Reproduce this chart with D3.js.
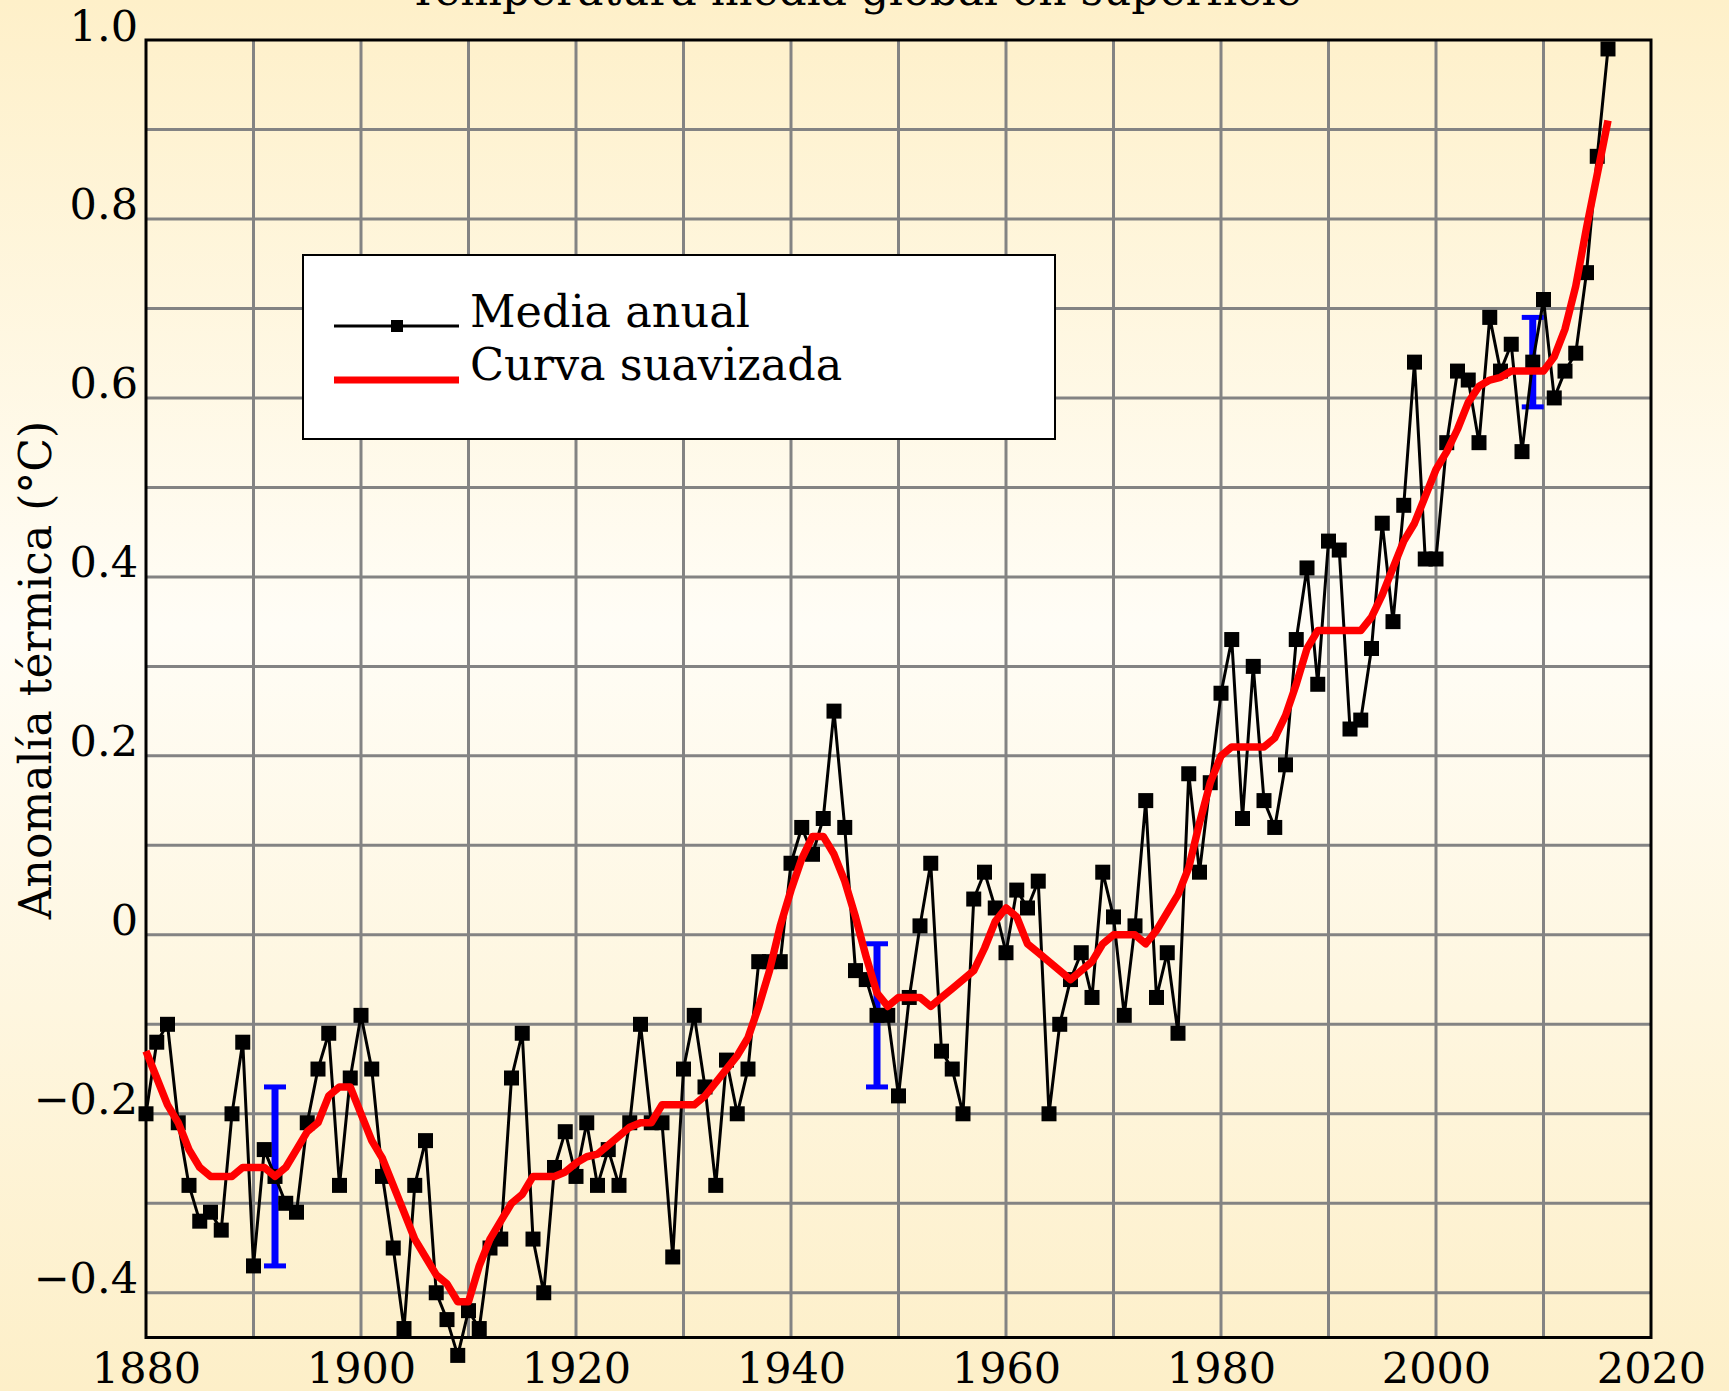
<!DOCTYPE html>
<html lang="es">
<head>
<meta charset="utf-8">
<title>Temperatura media global en superficie</title>
<script src="https://cdn.jsdelivr.net/npm/d3@7"></script>
<style>
  html, body { margin: 0; padding: 0; }
  body { width: 1729px; height: 1391px; overflow: hidden; }
  svg { display: block; }
  text { font-family: "DejaVu Serif", serif; fill: #000; }
</style>
</head>
<body>
<svg id="chart" width="1729" height="1391"></svg>
<script>
// GISTEMP-style global land–ocean temperature anomaly, base 1951–1980 (°C)
const firstYear = 1880;

// Annual mean, one value per year from 1880 to 2016
const annualMean = [
  -0.20, -0.12, -0.10, -0.21, -0.28, -0.32, -0.31, -0.33, -0.20, -0.12, // 1880s
  -0.37, -0.24, -0.27, -0.30, -0.31, -0.21, -0.15, -0.11, -0.28, -0.16, // 1890s
  -0.09, -0.15, -0.27, -0.35, -0.44, -0.28, -0.23, -0.40, -0.43, -0.47, // 1900s
  -0.42, -0.44, -0.35, -0.34, -0.16, -0.11, -0.34, -0.40, -0.26, -0.22, // 1910s
  -0.27, -0.21, -0.28, -0.24, -0.28, -0.21, -0.10, -0.21, -0.21, -0.36, // 1920s
  -0.15, -0.09, -0.17, -0.28, -0.14, -0.20, -0.15, -0.03, -0.03, -0.03, // 1930s
   0.08,  0.12,  0.09,  0.13,  0.25,  0.12, -0.04, -0.05, -0.09, -0.09, // 1940s
  -0.18, -0.07,  0.01,  0.08, -0.13, -0.15, -0.20,  0.04,  0.07,  0.03, // 1950s
  -0.02,  0.05,  0.03,  0.06, -0.20, -0.10, -0.05, -0.02, -0.07,  0.07, // 1960s
   0.02, -0.09,  0.01,  0.15, -0.07, -0.02, -0.11,  0.18,  0.07,  0.17, // 1970s
   0.27,  0.33,  0.13,  0.30,  0.15,  0.12,  0.19,  0.33,  0.41,  0.28, // 1980s
   0.44,  0.43,  0.23,  0.24,  0.32,  0.46,  0.35,  0.48,  0.64,  0.42, // 1990s
   0.42,  0.55,  0.63,  0.62,  0.55,  0.69,  0.63,  0.66,  0.54,  0.64, // 2000s
   0.71,  0.60,  0.63,  0.65,  0.74,  0.87,  0.99                       // 2010s
];

// Smoothed curve, one value per year from 1880 to 2016
const smoothed = [
  -0.13, -0.16, -0.19, -0.21, -0.24, -0.26, -0.27, -0.27, -0.27, -0.26,
  -0.26, -0.26, -0.27, -0.26, -0.24, -0.22, -0.21, -0.18, -0.17, -0.17,
  -0.20, -0.23, -0.25, -0.28, -0.31, -0.34, -0.36, -0.38, -0.39, -0.41,
  -0.41, -0.37, -0.34, -0.32, -0.30, -0.29, -0.27, -0.27, -0.27, -0.265,
  -0.255, -0.248, -0.245, -0.235, -0.225, -0.215, -0.21, -0.21, -0.19, -0.19,
  -0.19, -0.19, -0.18, -0.165, -0.15, -0.135, -0.115, -0.08, -0.04, 0.01,
   0.05, 0.085, 0.11, 0.11, 0.09, 0.06, 0.02, -0.025, -0.065, -0.08,
  -0.07, -0.07, -0.07, -0.08, -0.07, -0.06, -0.05, -0.04, -0.015, 0.015,
   0.03, 0.02, -0.01, -0.02, -0.03, -0.04, -0.05, -0.04, -0.03, -0.01,
   0.0, 0.0, 0.0, -0.01, 0.005, 0.025, 0.045, 0.075, 0.125, 0.17,
   0.20, 0.21, 0.21, 0.21, 0.21, 0.22, 0.245, 0.28, 0.32, 0.34,
   0.34, 0.34, 0.34, 0.34, 0.355, 0.38, 0.41, 0.44, 0.46, 0.49,
   0.52, 0.54, 0.565, 0.595, 0.613, 0.62, 0.623, 0.63, 0.63, 0.63,
   0.63, 0.646, 0.677, 0.725, 0.79, 0.85, 0.91
];

// Uncertainty bars: year, centre, half-width
const errorYears   = [1892, 1948, 2009];
const errorCentres = [-0.27, -0.09, 0.64];
const errorHalf    = [0.10, 0.08, 0.05];

// Axis ticks and labels
const xLabelTicks = [1880, 1900, 1920, 1940, 1960, 1980, 2000, 2020];
const yLabelTicks = [-0.4, -0.2, 0, 0.2, 0.4, 0.6, 0.8, 1.0];
const xGridTicks  = [1890, 1900, 1910, 1920, 1930, 1940, 1950, 1960, 1970, 1980, 1990, 2000, 2010];
const yGridTicks  = [-0.4, -0.3, -0.2, -0.1, 0, 0.1, 0.2, 0.3, 0.4, 0.5, 0.6, 0.7, 0.8, 0.9];

const titleText  = "Temperatura media global en superficie";
const yAxisLabel = "Anomalía térmica (°C)";
const legendLabels = ["Media anual", "Curva suavizada"];

// ---------------------------------------------------------------------------
const W = 1729, H = 1391;
const plot = { left: 146, right: 1651, top: 40, bottom: 1337.5 };

const svg = d3.select("#chart");

// page background: warm cream, paler through the middle
const defs = svg.append("defs");
const bg = defs.append("linearGradient")
  .attr("id", "bg").attr("x1", 0).attr("y1", 0).attr("x2", 0).attr("y2", 1);
bg.append("stop").attr("offset", "0").attr("stop-color", "#fef0c9");
bg.append("stop").attr("offset", "0.45").attr("stop-color", "#fffdf6");
bg.append("stop").attr("offset", "1").attr("stop-color", "#fdefc8");
svg.append("rect").attr("width", W).attr("height", H).attr("fill", "url(#bg)");

const x = d3.scaleLinear().domain([1880, 2020]).range([plot.left, plot.right]);
const y = d3.scaleLinear().domain([-0.45, 1.0]).range([plot.bottom, plot.top]);

const years = annualMean.map((_, i) => firstYear + i);
const annual = years.map((yr, i) => ({ year: yr, value: annualMean[i] }));
const smooth = years.map((yr, i) => ({ year: yr, value: smoothed[i] }));

// grid
const grid = svg.append("g").attr("stroke", "#838383").attr("stroke-width", 3);
grid.selectAll("line.v").data(xGridTicks).join("line").attr("class", "v")
  .attr("x1", d => x(d)).attr("x2", d => x(d))
  .attr("y1", plot.top).attr("y2", plot.bottom);
grid.selectAll("line.h").data(yGridTicks).join("line").attr("class", "h")
  .attr("y1", d => y(d)).attr("y2", d => y(d))
  .attr("x1", plot.left).attr("x2", plot.right);

// frame
svg.append("rect")
  .attr("x", plot.left).attr("y", plot.top)
  .attr("width", plot.right - plot.left).attr("height", plot.bottom - plot.top)
  .attr("fill", "none").attr("stroke", "#000").attr("stroke-width", 3);

// axes (labels only; the frame and grid carry the lines)
const fmtY = d => d === 0 ? "0" : d3.format(".1f")(d);
const xAxis = svg.append("g")
  .attr("transform", `translate(0,${plot.bottom})`)
  .call(d3.axisBottom(x).tickValues(xLabelTicks).tickFormat(d3.format("d")).tickSize(0));
xAxis.select(".domain").remove();
xAxis.selectAll("text")
  .attr("y", 45).attr("dy", 0)
  .style("font-family", "DejaVu Serif").style("font-size", "43px");

const yAxis = svg.append("g")
  .attr("transform", `translate(${plot.left},0)`)
  .call(d3.axisLeft(y).tickValues(yLabelTicks).tickFormat(fmtY).tickSize(0));
yAxis.select(".domain").remove();
yAxis.selectAll("text")
  .attr("x", -8).attr("dy", 0)
  .style("font-family", "DejaVu Serif").style("font-size", "43px");

// title (sits mostly above the page edge)
svg.append("text")
  .attr("x", 855).attr("y", 5)
  .attr("text-anchor", "middle")
  .style("font-size", "44px")
  .text(titleText);

// y axis label
svg.append("text")
  .attr("transform", "translate(51,670) rotate(-90)")
  .attr("text-anchor", "middle")
  .style("font-size", "44px")
  .text(yAxisLabel);

// uncertainty bars
const errG = svg.append("g").attr("stroke", "#0000ff").attr("fill", "none");
errorYears.forEach((yr, i) => {
  const cx = x(yr);
  const top = y(errorCentres[i] + errorHalf[i]);
  const bot = y(errorCentres[i] - errorHalf[i]);
  errG.append("line").attr("x1", cx).attr("x2", cx).attr("y1", top).attr("y2", bot)
    .attr("stroke-width", 7);
  [top, bot].forEach(yy => {
    errG.append("line").attr("x1", cx - 11).attr("x2", cx + 11)
      .attr("y1", yy).attr("y2", yy).attr("stroke-width", 5);
  });
});

// annual mean: thin black line with square markers
const line = d3.line().x(d => x(d.year)).y(d => y(d.value));
svg.append("path")
  .datum(annual)
  .attr("d", line)
  .attr("fill", "none").attr("stroke", "#000").attr("stroke-width", 3)
  .attr("stroke-linejoin", "round");

const mk = 15;
svg.append("g").selectAll("rect").data(annual).join("rect")
  .attr("x", d => x(d.year) - mk / 2).attr("y", d => y(d.value) - mk / 2)
  .attr("width", mk).attr("height", mk).attr("fill", "#000");

// smoothed curve
svg.append("path")
  .datum(smooth)
  .attr("d", line)
  .attr("fill", "none").attr("stroke", "#ff0000").attr("stroke-width", 7.5)
  .attr("stroke-linejoin", "round");

// legend
const lg = svg.append("g");
lg.append("rect")
  .attr("x", 303).attr("y", 255).attr("width", 752).attr("height", 184)
  .attr("fill", "#fff").attr("stroke", "#000").attr("stroke-width", 2);
lg.append("line").attr("x1", 334).attr("x2", 459).attr("y1", 326).attr("y2", 326)
  .attr("stroke", "#000").attr("stroke-width", 3);
lg.append("rect").attr("x", 397 - 6).attr("y", 326 - 6).attr("width", 12).attr("height", 12)
  .attr("fill", "#000");
lg.append("line").attr("x1", 334).attr("x2", 459).attr("y1", 380).attr("y2", 380)
  .attr("stroke", "#ff0000").attr("stroke-width", 7);
lg.selectAll("text.lab").data(legendLabels).join("text").attr("class", "lab")
  .attr("x", 470).attr("y", (d, i) => 327 + i * 53)
  .style("font-size", "44.5px")
  .text(d => d);
</script>
</body>
</html>
